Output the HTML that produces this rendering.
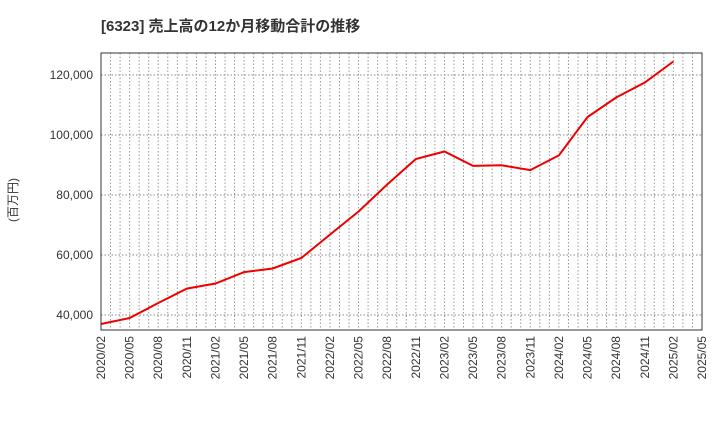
<!DOCTYPE html>
<html><head><meta charset="utf-8"><style>
body{margin:0;background:#fff;}
svg text{font-family:"Liberation Sans","Noto Sans CJK JP",sans-serif;}
</style></head><body>
<svg id="c" width="720" height="440" xmlns="http://www.w3.org/2000/svg">
<text x="101" y="31" font-size="15" font-weight="bold" fill="#333">[6323]  売上高の12か月移動合計の推移</text>
<text transform="translate(17,200) rotate(-90)" font-size="12" fill="#333" text-anchor="middle">(百万円)</text>
<g id="grid"></g><g id="ticks"></g><g id="series"></g>
<rect x="101" y="53" width="601" height="277" fill="none" stroke="#333" stroke-width="1"/>
</svg>
<script>
const xLabels=["2020/02","2020/05","2020/08","2020/11","2021/02","2021/05","2021/08","2021/11","2022/02","2022/05","2022/08","2022/11","2023/02","2023/05","2023/08","2023/11","2024/02","2024/05","2024/08","2024/11","2025/02","2025/05"];
const values=[37000,39000,44000,48800,50500,54300,55500,59000,66800,74500,83500,92000,94500,89700,89900,88300,93200,106000,112500,117500,124500];
const yTicks=[40000,60000,80000,100000,120000];
const L=101,R=702,T=53,B=330,yMin=35000,yMax=127333;
const NS="http://www.w3.org/2000/svg";
function xs(i){return L+(R-L)*i/(xLabels.length-1);}
function ys(v){return B-(v-yMin)/(yMax-yMin)*(B-T);}
function mk(tag,attrs,parent){const e=document.createElementNS(NS,tag);for(const k in attrs)e.setAttribute(k,attrs[k]);parent.appendChild(e);return e;}
const grid=document.getElementById('grid'),ticks=document.getElementById('ticks'),ser=document.getElementById('series');
const months=(xLabels.length-1)*3;
for(let m=1;m<months;m++){const x=L+(R-L)*m/months;
const g=mk('line',{x1:x,x2:x,y1:T,y2:B,stroke:'#999','stroke-dasharray':'1.5,2'},grid);

}
yTicks.forEach(v=>{const y=ys(v);
const g=mk('line',{x1:L,x2:R,y1:y,y2:y,stroke:'#888','stroke-dasharray':'1.5,2'},grid);


const t=mk('text',{x:L-8,y:y+4,'font-size':12,fill:'#333','text-anchor':'end'},ticks);
t.textContent=v.toLocaleString('en-US');

});
xLabels.forEach((s,i)=>{const x=xs(i);
const t=mk('text',{transform:`translate(${x+4},336) rotate(-90)`,'font-size':12,fill:'#333','text-anchor':'end'},ticks);
t.textContent=s;

});
const p=mk('polyline',{points:values.map((v,i)=>xs(i)+','+ys(v)).join(' '),fill:'none',stroke:'#e00','stroke-width':2},ser);


</script>
</body></html>
